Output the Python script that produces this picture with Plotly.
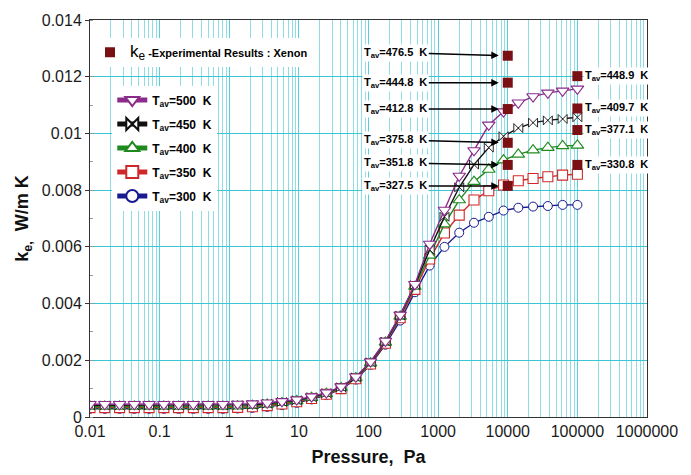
import math
import plotly.graph_objects as go

# ---------------- data ----------------
pressure = [0.01, 0.0163, 0.0266, 0.0433, 0.0705, 0.115, 0.187, 0.305, 0.498, 0.811,
            1.32, 2.15, 3.51, 5.72, 9.33, 15.2, 24.8, 40.4, 65.8, 107,
            175, 285, 464, 756, 1233, 2009, 3275, 5337, 8700, 14175,
            23101, 37649, 61359, 100000]

k_500 = [0.00045, 0.00045, 0.00045, 0.00045, 0.00045, 0.00045, 0.00045, 0.00045, 0.00045, 0.00045,
         0.00046, 0.00047, 0.00050, 0.00055, 0.00061, 0.00072, 0.00086, 0.00107, 0.00142, 0.00195,
         0.00268, 0.00360, 0.00468, 0.00610, 0.00730, 0.00850, 0.00940, 0.01030, 0.01077, 0.01108,
         0.01130, 0.01143, 0.01150, 0.01157]
k_450 = [0.00041, 0.00041, 0.00041, 0.00041, 0.00041, 0.00041, 0.00041, 0.00041, 0.00041, 0.00041,
         0.00042, 0.00043, 0.00047, 0.00053, 0.00059, 0.00070, 0.00084, 0.00105, 0.00140, 0.00193,
         0.00266, 0.00358, 0.00465, 0.00590, 0.00706, 0.00810, 0.00890, 0.00950, 0.00990, 0.01019,
         0.01038, 0.01046, 0.01051, 0.01057]
k_400 = [0.00037, 0.00037, 0.00037, 0.00037, 0.00037, 0.00037, 0.00037, 0.00037, 0.00037, 0.00037,
         0.00038, 0.00040, 0.00044, 0.00050, 0.00057, 0.00068, 0.00082, 0.00103, 0.00138, 0.00190,
         0.00263, 0.00355, 0.00460, 0.00570, 0.00680, 0.00765, 0.00830, 0.00873, 0.00906, 0.00926,
         0.00941, 0.00950, 0.00956, 0.00958]
k_350 = [0.00033, 0.00033, 0.00033, 0.00033, 0.00033, 0.00033, 0.00033, 0.00033, 0.00033, 0.00033,
         0.00034, 0.00036, 0.00040, 0.00046, 0.00054, 0.00065, 0.00080, 0.00100, 0.00135, 0.00187,
         0.00260, 0.00350, 0.00450, 0.00557, 0.00649, 0.00712, 0.00765, 0.00798, 0.00818, 0.00833,
         0.00841, 0.00847, 0.00853, 0.00856]
k_300 = [0.00029, 0.00029, 0.00029, 0.00029, 0.00029, 0.00029, 0.00029, 0.00029, 0.00029, 0.00029,
         0.00030, 0.00032, 0.00036, 0.00042, 0.00050, 0.00062, 0.00077, 0.00098, 0.00132, 0.00184,
         0.00255, 0.00340, 0.00440, 0.00534, 0.00600, 0.00650, 0.00685, 0.00706, 0.00728, 0.00738,
         0.00742, 0.00744, 0.00748, 0.00748]

series_names = ["T<sub>av</sub>=500\u00a0 K", "T<sub>av</sub>=450\u00a0 K", "T<sub>av</sub>=400\u00a0 K",
                "T<sub>av</sub>=350\u00a0 K", "T<sub>av</sub>=300\u00a0 K"]

# experimental results (xenon)
exp_left_p = [10000, 10000, 10000, 10000, 10000, 10000]
exp_left_k = [0.01274, 0.01179, 0.01086, 0.00967, 0.00889, 0.00815]
exp_left_T = ["476.5", "444.8", "412.8", "375.8", "351.8", "327.5"]

exp_right_p = [100000, 100000, 100000, 100000]
exp_right_k = [0.01202, 0.01088, 0.01012, 0.00889]
exp_right_T = ["448.9", "409.7", "377.1", "330.8"]

x_tickvals = [0.01, 0.1, 1, 10, 100, 1000, 10000, 100000, 1000000]
x_ticktext = ["0.01", "0.1", "1", "10", "100", "1000", "10000", "100000", "1000000"]
y_tickvals = [0, 0.002, 0.004, 0.006, 0.008, 0.01, 0.012, 0.014]
y_ticktext = ["0", "0.002", "0.004", "0.006", "0.008", "0.01", "0.012", "0.014"]

# ---------------- styles ----------------
styles = [
    dict(color="#8B2B8B", symbol="triangle-down", size=11, lw=1.1),
    dict(color="#111111", symbol="bowtie", size=9, lw=0.9),
    dict(color="#1E8A1E", symbol="triangle-up", size=11, lw=1.1),
    dict(color="#D02828", symbol="square", size=10, lw=1.1),
    dict(color="#1A1A90", symbol="circle", size=9, lw=1.0),
]
series = [k_500, k_450, k_400, k_350, k_300]
FONT = "Liberation Sans, Arial, sans-serif"

fig = go.Figure()

# draw coolest first so the 500 K curve sits on top
for i in reversed(range(5)):
    st = styles[i]
    fig.add_trace(go.Scatter(
        x=pressure, y=series[i], mode="lines+markers",
        name="<b>" + series_names[i] + "</b>",
        legendgroup="g" + str(i), legendrank=i + 1,
        line=dict(color=st["color"], width=1.4),
        marker=dict(symbol=st["symbol"], size=st["size"], color="white",
                    line=dict(color=st["color"], width=st["lw"])),
    ))

fig.add_trace(go.Scatter(
    x=exp_left_p + exp_right_p, y=exp_left_k + exp_right_k, mode="markers",
    name="<span style='font-size:17px'>k<sub>e</sub></span><b> -Experimental Results : Xenon</b>",
    legend="legend2",
    marker=dict(symbol="square", size=10, color="#7A1014"),
))

# arrow labels for the 10 kPa points (log axis -> annotation x in log10 units)
label_dy = [-3, 0, 0, -3, -2, 0]
annotations = []
for p, k, T, dy in zip(exp_left_p, exp_left_k, exp_left_T, label_dy):
    annotations.append(dict(
        x=math.log10(p), y=k, xref="x", yref="y",
        text="<b>T<sub>av</sub>=" + T + "\u00a0 K</b>",
        showarrow=True, ax=-112, ay=dy, standoff=9,
        arrowhead=2, arrowsize=1, arrowwidth=1.5, arrowcolor="black",
        bgcolor="white", borderpad=1,
        font=dict(family=FONT, size=11, color="black"),
    ))
for p, k, T in zip(exp_right_p, exp_right_k, exp_right_T):
    annotations.append(dict(
        x=math.log10(p), y=k, xref="x", yref="y", xanchor="left", xshift=6,
        text="<b>T<sub>av</sub>=" + T + "\u00a0 K</b>",
        showarrow=False, bgcolor="white", borderpad=1,
        font=dict(family=FONT, size=11, color="black"),
    ))

# the page body adds an 8px margin, so the figure is sized to fit inside it
fig.update_layout(
    width=675, height=459,
    margin=dict(l=82, r=36, t=12, b=50, autoexpand=False),
    paper_bgcolor="white", plot_bgcolor="white",
    font=dict(family=FONT, size=16, color="#1a1a1a"),
    showlegend=True,
    legend=dict(x=0.04, y=0.835, xanchor="left", yanchor="top",
                bgcolor="white", tracegroupgap=5, traceorder="grouped",
                font=dict(family=FONT, size=12, color="black"),
                itemsizing="constant"),
    legend2=dict(x=0.0, y=0.955, xanchor="left", yanchor="top",
                 bgcolor="white",
                 font=dict(family=FONT, size=11, color="black")),
    annotations=annotations,
    xaxis=dict(
        type="log", range=[math.log10(0.01), math.log10(1000000)],
        tickvals=x_tickvals, ticktext=x_ticktext, automargin=False,
        showgrid=True, gridcolor="#55D0DC", gridwidth=1,
        minor=dict(dtick="D1", showgrid=True, gridcolor="#8FDDE5", gridwidth=1, ticks=""),
        showline=True, linecolor="#333333", linewidth=1, mirror=True,
        ticks="", zeroline=False,
        tickfont=dict(size=16, color="#1a1a1a"),
        title=dict(text="<b>Pressure,\u00a0 Pa</b>", font=dict(size=18, color="#111111"), standoff=23),
    ),
    yaxis=dict(
        range=[0, 0.014], automargin=False,
        tickvals=y_tickvals, ticktext=y_ticktext,
        showgrid=True, gridcolor="#3CC6D4", gridwidth=1,
        minor=dict(dtick=0.001, ticks="inside", ticklen=3, tickcolor="#999999", showgrid=False),
        showline=True, linecolor="#333333", linewidth=1, mirror=True,
        ticks="outside", ticklen=4, tickcolor="#333333", zeroline=False,
        tickfont=dict(size=16, color="#1a1a1a"),
        title=dict(text="<b>k<sub>e,</sub>\u00a0 W/m K</b>", font=dict(size=18, color="#111111"), standoff=8),
    ),
)

fig.write_html("out.html")
